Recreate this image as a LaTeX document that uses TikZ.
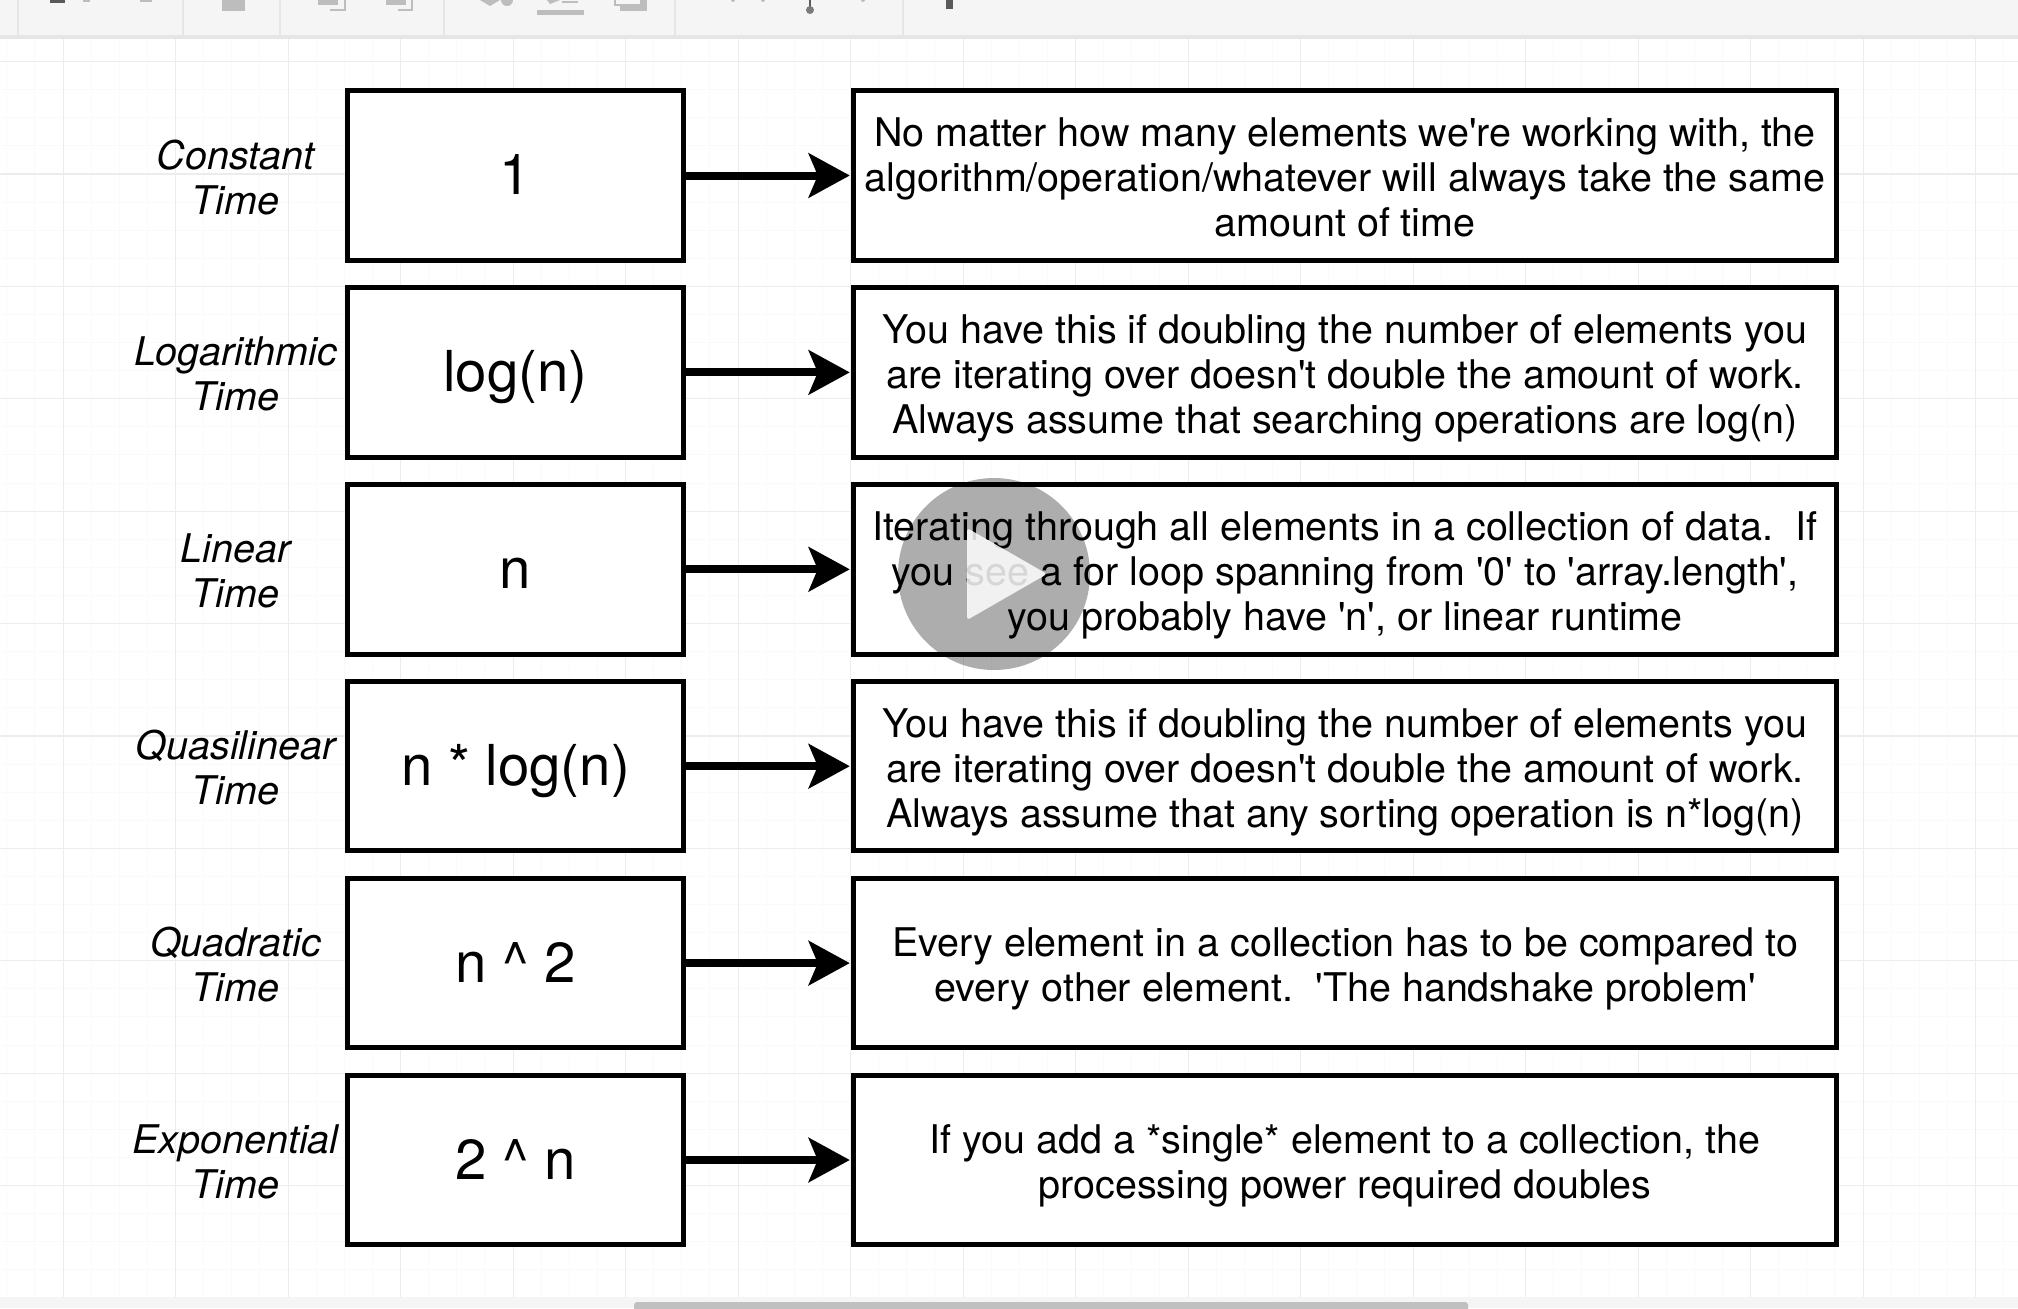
\documentclass[tikz,border=0pt]{standalone}
\usepackage{fontspec}
\usetikzlibrary{arrows.meta}
\newfontfamily\hel{TeX Gyre Heros}
\definecolor{barbg}{HTML}{F5F5F5}
\definecolor{barline}{HTML}{E6E6E6}
\definecolor{gridmajor}{HTML}{ECECEC}
\definecolor{gridminor}{HTML}{FAFAFA}
\definecolor{icongrey}{HTML}{BDBDBD}
\definecolor{icondark}{HTML}{5A5A5A}
\newcommand{\fs}{\rule[-.3\baselineskip]{0pt}{\dimexpr\baselineskip+7pt\relax}}
\tikzset{
  x=0.5pt,y=-0.5pt,
  lab/.style={font=\hel\itshape\fontsize{19.75}{22.5}\selectfont,align=center,inner sep=0pt},
  valbox/.style={draw=black,fill=white,line width=2.5pt,minimum width=168pt,minimum height=84.7pt,inner sep=0pt,font=\hel\fontsize{28.2}{30}\selectfont},
  descbox/.style={draw=black,fill=white,line width=2.5pt,minimum width=491.5pt,minimum height=84.7pt,inner sep=0pt,align=center,font=\hel\fontsize{19.75}{22.5}\selectfont},
  conn/.style={line width=4pt,shorten >=0.6pt,-{Stealth[length=20.5pt,width=22pt,inset=4.5pt]}},
  gmaj/.style={draw=gridmajor,line width=0.6pt},
  gmin/.style={draw=gridminor,line width=0.5pt},
}
\begin{document}
\begin{tikzpicture}
\useasboundingbox (0,0) rectangle (2018,1308);
\fill[white] (0,0) rectangle (2018,1308);
% grid
\foreach \k in {0,...,73} {
  \draw[gmin] ({-21.3+28.125*\k},39) -- ({-21.3+28.125*\k},1297);
}
\foreach \k in {0,...,46} {
  \draw[gmin] (0,{61.5+28.1*\k}) -- (2018,{61.5+28.1*\k});
}
\foreach \k in {0,...,17} {
  \draw[gmaj] ({63.2+112.5*\k},39) -- ({63.2+112.5*\k},1297);
}
\foreach \k in {0,...,11} {
  \draw[gmaj] (0,{61.5+112.4*\k}) -- (2018,{61.5+112.4*\k});
}
% toolbar
\fill[barbg] (0,0) rectangle (2018,35);
\fill[barline] (0,35) rectangle (2018,39);
\foreach \sx in {18,183,280,444,675,903} {
  \draw[barline,line width=0.6pt] (\sx,0) -- (\sx,35);
}
\fill[icondark] (50,0) rectangle (65,3);
\fill[icongrey] (83,0) rectangle (90,1.5);
\fill[icongrey] (140,0) rectangle (152,2);
\fill[icongrey] (222,0) rectangle (244.5,11);
\fill[icongrey] (318,0) rectangle (338,5);
\draw[icongrey,line width=0.7pt] (345,0) -- (345,10) -- (330,10);
\fill[icongrey] (386,0) rectangle (406,5);
\draw[icongrey,line width=0.7pt] (412,0) -- (412,10) -- (398,10);
\fill[icongrey] (480,0) -- (500,0) -- (490,6) -- cycle;
\fill[icongrey] (507,0) circle (3pt);
\fill[icongrey] (537,10) rectangle (584,15);
\fill[icongrey] (547,0) -- (560,0) -- (550,4) -- cycle;
\draw[icongrey,line width=0.7pt] (562,2) -- (578,2);
\fill[icongrey] (620,0) rectangle (647,11);
\fill[barbg] (615,0) rectangle (641,5);
\draw[icongrey,line width=0.7pt] (615,0) -- (615,5) -- (641,5) -- (641,0);
\draw[icondark,line width=0.7pt] (810,0) -- (810,8);
\fill[icondark!80] (810,10) circle (2pt);
\fill[icondark] (946,0) rectangle (953,9);
\fill[icongrey] (733,0) circle (1pt);
\fill[icongrey] (763,0) circle (1pt);
\fill[icongrey] (863,0) circle (1pt);
% bottom bar
\fill[barbg] (0,1297) rectangle (2018,1308);
\fill[icongrey!95,rounded corners=1.5pt] (634,1302) rectangle (1468,1315);
% labels
\node[lab] (l1) at (235.5,175.5) {\fs Constant\\\strut Time};
\node[lab] (l2) at (235.5,372.4) {\fs Logarithmic\\\strut Time};
\node[lab] (l3) at (235.5,569.3) {\fs Linear\\\strut Time};
\node[lab] (l4) at (235.5,766.2) {\fs Quasilinear\\\strut Time};
\node[lab] (l5) at (235.5,963.1) {\fs Quadratic\\\strut Time};
\node[lab] (l6) at (235.5,1160) {\fs Exponential\\\strut Time};
% value boxes
\node[valbox] (b1) at (515.5,175.5) {\fs 1};
\node[valbox] (b2) at (515.5,372.4) {\fs log(n)};
\node[valbox] (b3) at (515.5,569.3) {\fs n};
\node[valbox] (b4) at (515.5,766.2) {\fs n * log(n)};
\node[valbox] (b5) at (515.5,963.1) {\fs n \char`\^{} 2};
\node[valbox] (b6) at (515.5,1160) {\fs 2 \char`\^{} n};
% description boxes
\node[descbox] (d1) at (1345,175.5) {\fs No matter how many elements we're working with, the\\algorithm/operation/whatever will always take the same\\\strut amount of time};
\node[descbox] (d2) at (1345,372.4) {\fs You have this if doubling the number of elements you\\are iterating over doesn't double the amount of work.\\\strut Always assume that searching operations are log(n)};
\node[descbox] (d3) at (1345,569.3) {\fs Iterating through all elements in a collection of data.\ \ If\\you see a for loop spanning from '0' to 'array.length',\\\strut you probably have 'n', or linear runtime};
\node[descbox] (d4) at (1345,766.2) {\fs You have this if doubling the number of elements you\\are iterating over doesn't double the amount of work.\\\strut Always assume that any sorting operation is n*log(n)};
\node[descbox] (d5) at (1345,963.1) {\fs Every element in a collection has to be compared to\\\strut every other element.\ \ 'The handshake problem'};
\node[descbox] (d6) at (1345,1160) {\fs If you add a *single* element to a collection, the\\\strut processing power required doubles};
% connectors
\draw[conn] (b1) -- (d1);
\draw[conn] (b2) -- (d2);
\draw[conn] (b3) -- (d3);
\draw[conn] (b4) -- (d4);
\draw[conn] (b5) -- (d5);
\draw[conn] (b6) -- (d6);
% video play overlay
\fill[black,opacity=0.32] (994,574) circle (48pt);
\fill[white,opacity=0.84,rounded corners=1.5pt] (967,528) -- (1047,574) -- (967,620) -- cycle;
\end{tikzpicture}
\end{document}
